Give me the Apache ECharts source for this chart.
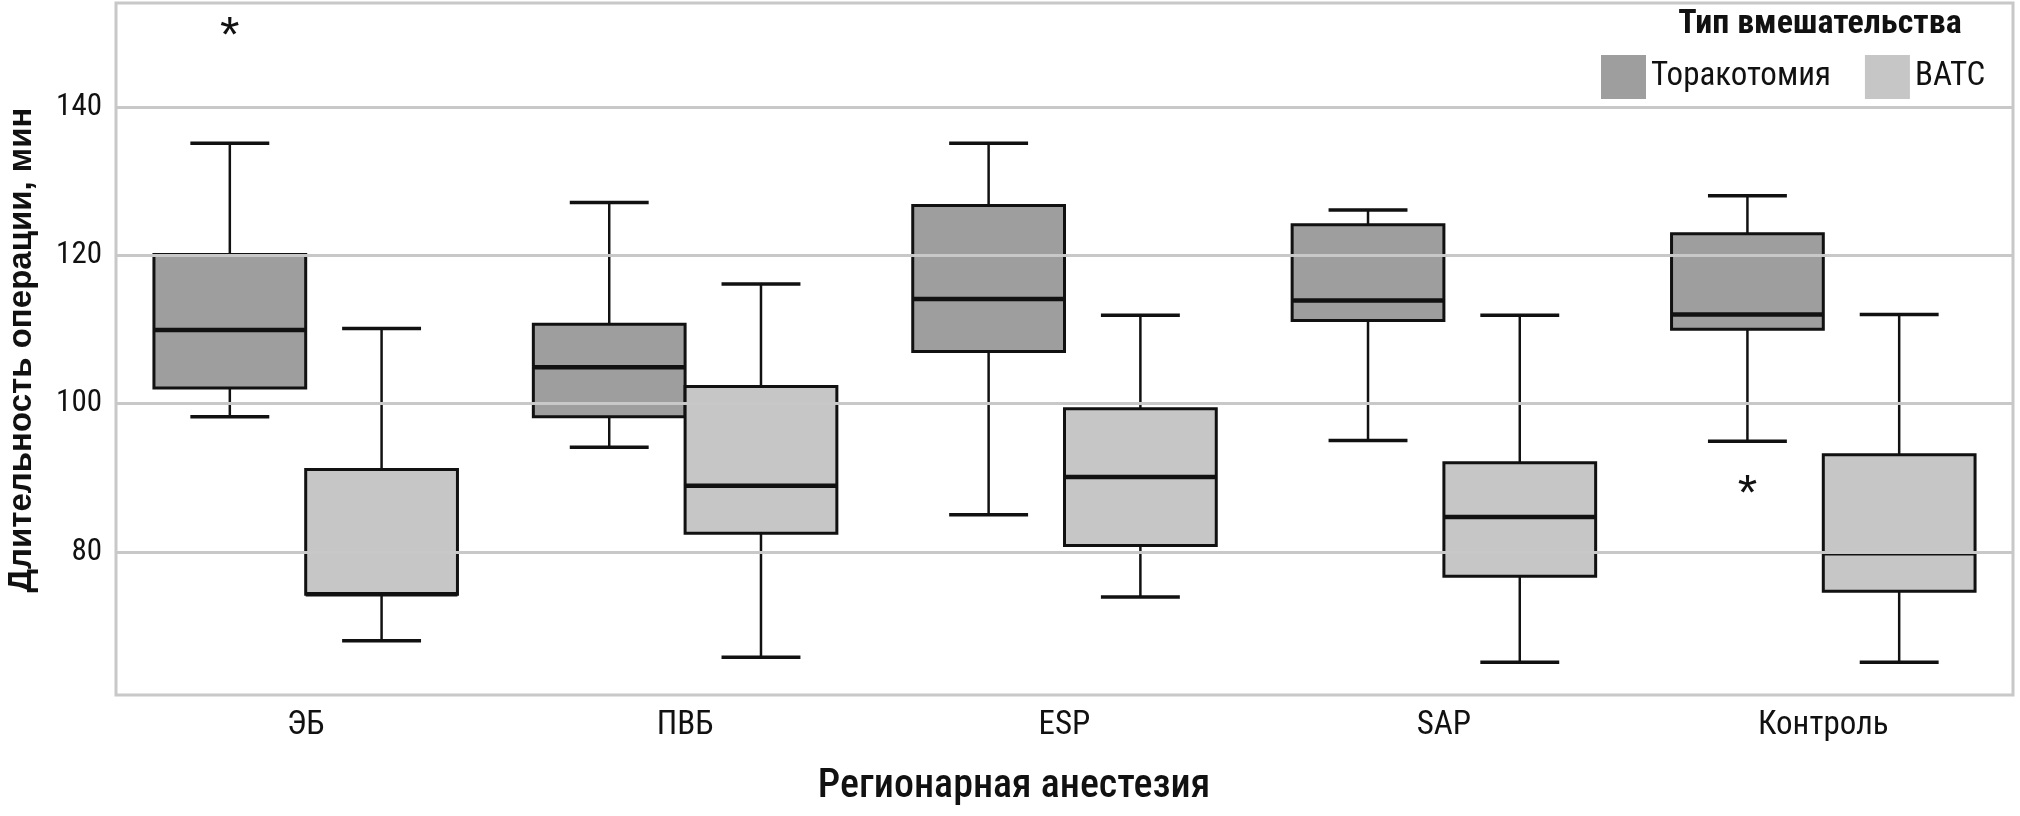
<!DOCTYPE html>
<html>
<head>
<meta charset="utf-8">
<script src="https://cdn.jsdelivr.net/npm/echarts@6/dist/echarts.min.js"></script>
<style>
html,body{margin:0;padding:0;background:#fff;}
#chart{width:2020px;height:816px;}
</style>
</head>
<body>
<div id="chart"></div>
<script>
// Categories (regional anesthesia)
const categories = ['ЭБ', 'ПВБ', 'ESP', 'SAP', 'Контроль'];
// Box stats per category: [low whisker, Q1, median, Q3, high whisker]
const thoracotomy = [
  [98.2, 102.1, 109.9, 120.1, 135.1],
  [94.1, 98.2, 104.9, 110.7, 127.1],
  [85.0, 107.0, 114.1, 126.7, 135.1],
  [95.0, 111.2, 113.9, 124.1, 126.1],
  [94.9, 110.0, 112.0, 122.9, 128.0]
];
const vats = [
  [68.0, 74.3, 74.3, 91.1, 110.1],
  [65.8, 82.5, 88.9, 102.3, 116.1],
  [73.9, 80.85, 90.1, 99.3, 111.9],
  [65.1, 76.7, 84.7, 92.0, 111.9],
  [65.1, 74.7, 79.8, 93.1, 112.0]
];
// Outliers: [category index, value]
const thoracotomyOutliers = [[0, 150.8], [4, 89.0]];
const vatsOutliers = [];
const yTicks = [80, 100, 120, 140];

const seriesNames = ['Торакотомия', 'ВАТС'];
const fills = ['#9e9e9e', '#c6c6c6'];
const NARROW = "'Roboto Condensed', 'Liberation Sans Narrow', 'DejaVu Sans Condensed', sans-serif";
const STROKE = '#111';

function boxRender(side, fill) {
  return function (params, api) {
    const idx = api.value(0);
    const bw = api.size([1, 0])[0];
    const c = api.coord([idx, 0])[0] + side * bw * 0.2;
    const half = bw * 0.2;
    const capHalf = bw * 0.104;
    const y = k => api.coord([idx, api.value(k)])[1];
    const yLow = y(1), yQ1 = y(2), yMed = y(3), yQ3 = y(4), yHigh = y(5);
    const ls = w => ({ stroke: STROKE, lineWidth: w });
    return {
      type: 'group',
      children: [
        { type: 'line', shape: { x1: c, y1: yHigh, x2: c, y2: yQ3 }, style: ls(2.5) },
        { type: 'line', shape: { x1: c, y1: yQ1, x2: c, y2: yLow }, style: ls(2.5) },
        { type: 'line', shape: { x1: c - capHalf, y1: yHigh, x2: c + capHalf, y2: yHigh }, style: ls(3.5) },
        { type: 'line', shape: { x1: c - capHalf, y1: yLow, x2: c + capHalf, y2: yLow }, style: ls(3.5) },
        { type: 'rect', shape: { x: c - half, y: yQ3, width: 2 * half, height: yQ1 - yQ3 }, style: { fill: fill, stroke: STROKE, lineWidth: 3 } },
        { type: 'line', shape: { x1: c - half, y1: yMed, x2: c + half, y2: yMed }, style: ls(4.5) }
      ]
    };
  };
}

function outlierRender(side) {
  return function (params, api) {
    const idx = api.value(0);
    const bw = api.size([1, 0])[0];
    const p = api.coord([idx, api.value(1)]);
    return {
      type: 'text',
      x: p[0] + side * bw * 0.2,
      y: p[1] + 11,
      style: { text: '*', fill: '#111', font: '50px "Liberation Sans", Arial, sans-serif', align: 'center', verticalAlign: 'middle' }
    };
  };
}

const chart = echarts.init(document.getElementById('chart'), null, { renderer: 'canvas' });
const option = {
  animation: false,
  backgroundColor: '#fff',
  grid: { left: 116, right: 7, top: 3, bottom: 121, show: true, borderColor: '#c8c8c8', borderWidth: 3, backgroundColor: 'transparent' },
  legend: {
    left: 1601, top: 55, itemWidth: 45, itemHeight: 44, itemGap: 34, padding: 0,
    textStyle: { fontFamily: NARROW, fontSize: 33, color: '#111' },
    data: [
      { name: seriesNames[0], icon: 'rect', itemStyle: { color: fills[0], borderWidth: 0 } },
      { name: seriesNames[1], icon: 'rect', itemStyle: { color: fills[1], borderWidth: 0 } }
    ]
  },
  xAxis: {
    type: 'category', data: categories, boundaryGap: true,
    axisLine: { show: false }, axisTick: { show: false }, splitLine: { show: false },
    axisLabel: { fontFamily: NARROW, fontSize: 33, color: '#111', margin: 14 }
  },
  yAxis: {
    type: 'value', min: 60.7, max: 154, z: 3,
    axisLine: { show: false },
    axisTick: { show: false, customValues: yTicks },
    splitLine: { show: true, lineStyle: { color: '#c8c8c8', width: 3 } },
    axisLabel: {
      fontFamily: NARROW, fontSize: 31, color: '#111', margin: 14,
      customValues: yTicks
    }
  },
  graphic: [
    { type: 'text', x: 22, y: 350, rotation: Math.PI / 2,
      style: { text: 'Длительность операции, мин', font: 'bold 33px "Liberation Sans", Arial, sans-serif', fill: '#111', align: 'center', verticalAlign: 'middle' } },
    { type: 'text', x: 1014, y: 787,
      style: { text: 'Регионарная анестезия', font: '500 40px ' + NARROW, fill: '#111', align: 'center', verticalAlign: 'middle' } },
    { type: 'text', x: 1820, y: 24,
      style: { text: 'Тип вмешательства', font: 'bold 34px ' + NARROW, fill: '#111', align: 'center', verticalAlign: 'middle' } }
  ],
  series: [
    { name: seriesNames[0], type: 'custom', z: 2, itemStyle: { color: fills[0] },
      encode: { x: 0, y: [1, 2, 3, 4, 5] },
      data: thoracotomy.map((d, i) => [i].concat(d)), renderItem: boxRender(-1, fills[0]) },
    { name: seriesNames[1], type: 'custom', z: 2, itemStyle: { color: fills[1] },
      encode: { x: 0, y: [1, 2, 3, 4, 5] },
      data: vats.map((d, i) => [i].concat(d)), renderItem: boxRender(1, fills[1]) },
    { name: seriesNames[0], type: 'custom', z: 2, itemStyle: { color: fills[0] },
      encode: { x: 0, y: 1 },
      data: thoracotomyOutliers, renderItem: outlierRender(-1) },
    { name: seriesNames[1], type: 'custom', z: 2, itemStyle: { color: fills[1] },
      encode: { x: 0, y: 1 },
      data: vatsOutliers, renderItem: outlierRender(1) }
  ]
};
chart.setOption(option);
</script>
</body>
</html>
